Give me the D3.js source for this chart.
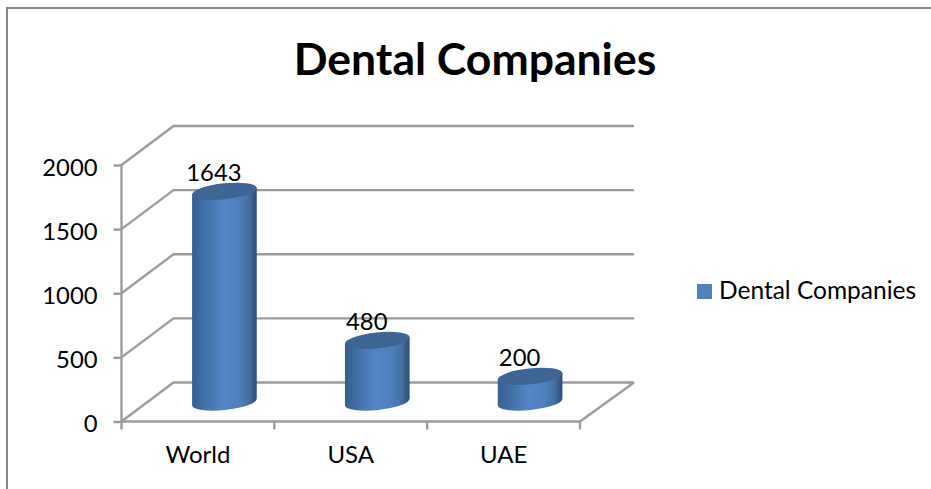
<!DOCTYPE html>
<html><head><meta charset="utf-8">
<script src="https://cdn.jsdelivr.net/npm/d3@7/dist/d3.min.js"></script>
<style>html,body{margin:0;padding:0;background:#fff}svg{display:block}text{font-family:Lato,"Open Sans",sans-serif;fill:#000}</style>
</head><body><svg id="c" width="931" height="489"></svg>
<script>
const categories = ["World","USA","UAE"];
const values = [1643,480,200];
const seriesName = "Dental Companies";
const titleText = "Dental Companies";
const yTicks = [0,500,1000,1500,2000];

const svg = d3.select("#c");
const front = {x0:121.5,x1:580,y0:421.5,y1:165};
const depth = {dx:52,dy:-39};
const lineCol = "#9c9c9c";
const lineW = 2.4;

const y = d3.scaleLinear().domain([0,2000]).range([front.y0,front.y1]);
const x = d3.scaleBand().domain(categories).range([front.x0,front.x1]);

// chart frame (only top and left visible)
svg.append("path").attr("d","M7 489V8H931").attr("fill","none").attr("stroke","#878787").attr("stroke-width",2);

const g = svg.append("g").attr("fill","none").attr("stroke",lineCol).attr("stroke-width",lineW);
yTicks.forEach(t=>{
  g.append("path").attr("d",`M${front.x0} ${y(t)}L${front.x0+depth.dx} ${y(t)+depth.dy}H${front.x1+depth.dx+2}`);
});
g.append("path").attr("d",`M${front.x1} ${front.y0}L${front.x1+depth.dx+2} ${front.y0+depth.dy}`);

// axes
const yAxis = d3.axisLeft(y).tickValues(yTicks).tickSize(8).tickPadding(16).tickFormat(d3.format("d"));
const ya = svg.append("g").attr("transform",`translate(${front.x0},0)`).call(yAxis);
const xAxis = d3.axisBottom(x).tickSize(0).tickPadding(24);
const xa = svg.append("g").attr("transform",`translate(0,${front.y0})`).call(xAxis);
ya.selectAll(".tick text").attr("font-size",23.8).attr("dy","0.42em");
xa.selectAll(".tick text").attr("font-size",24).attr("dy","0.71em");
[ya,xa].forEach(a=>{a.attr("font-family",null).attr("font-size",null);
  a.selectAll("path,line").attr("stroke",lineCol).attr("stroke-width",lineW);
  a.selectAll("text").attr("fill","#000");});
ya.select(".domain").attr("d",`M0 ${front.y0+1}V${front.y1-1}`);
xa.select(".domain").attr("d",`M${front.x0} 0H${front.x1}`);
[front.x0,...categories.map(c=>x(c)+x.bandwidth())].forEach(px=>{
  xa.append("line").attr("x1",px).attr("x2",px).attr("y1",0).attr("y2",8).attr("stroke",lineCol).attr("stroke-width",lineW);
});

// gradient
const defs = svg.append("defs");
const gr = defs.append("linearGradient").attr("id","cyl");
[[0,"#35608f"],[.08,"#3a6698"],[.25,"#4676ad"],[.48,"#5285c6"],[.72,"#4f80bd"],[.88,"#44709f"],[1,"#2d4b72"]]
 .forEach(s=>gr.append("stop").attr("offset",s[0]).attr("stop-color",s[1]));

// cylinders
const rx=32.5, ry=8, rot=-6;
const sin=Math.sin(rot*Math.PI/180), cos=Math.cos(rot*Math.PI/180);
const cx = c => x(c)+x.bandwidth()/2+26.5;
const base = v => y(v)-19.5;
const bars = svg.append("g");
categories.forEach((c,i)=>{
  const v=values[i], X=cx(c), yb=base(0), yt=base(v);
  const lx=-rx*cos, ly=-rx*sin, rxp=rx*cos, ryp=rx*sin;
  bars.append("path").attr("fill","url(#cyl)")
    .attr("d",`M${X+lx} ${yt+ly}L${X+lx} ${yb+ly}A${rx} ${ry} ${rot} 0 0 ${X+rxp} ${yb+ryp}L${X+rxp} ${yt+ryp}Z`);
  bars.append("ellipse").attr("cx",0).attr("cy",0).attr("rx",rx).attr("ry",ry)
    .attr("transform",`translate(${X},${yt}) rotate(${rot})`).attr("fill","#3d6695");
  svg.append("text").attr("x",X-10.5).attr("y",yt-10).attr("text-anchor","middle").attr("font-size",23.8).text(v);
});

// title
svg.append("text").attr("x",475).attr("y",75).attr("text-anchor","middle").attr("font-size",44.5).attr("font-weight",700).text(titleText);
// legend
svg.append("rect").attr("x",697).attr("y",284).attr("width",15).attr("height",15).attr("fill","#4f81bd");
svg.append("text").attr("x",719).attr("y",299).attr("font-size",24.5).text(seriesName);
</script></body></html>
